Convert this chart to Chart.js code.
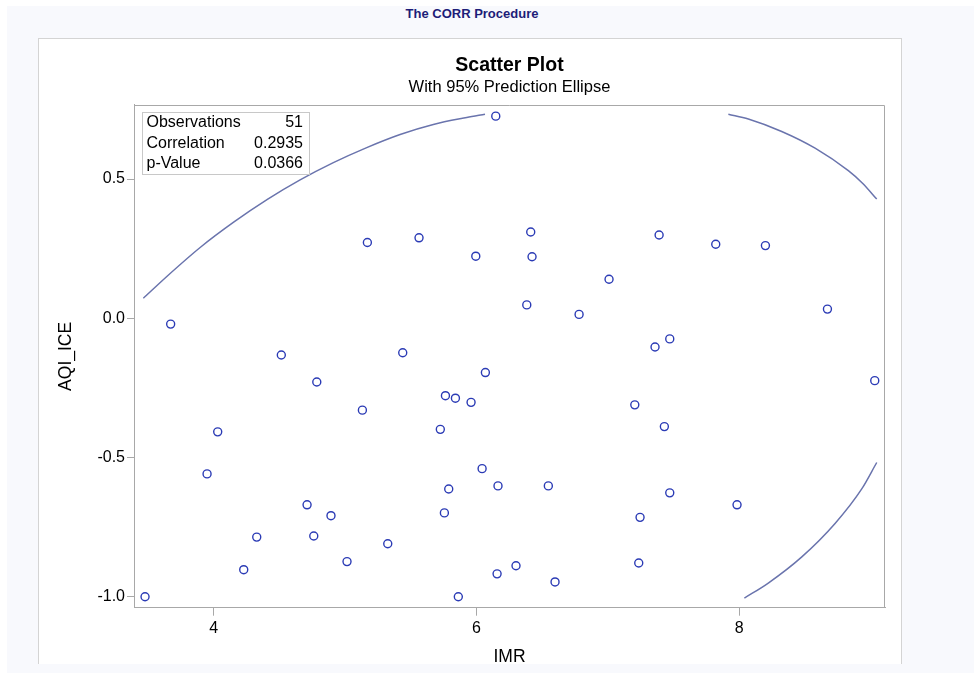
<!DOCTYPE html>
<html lang="en">
<head>
    <meta charset="UTF-8">
    <title>The CORR Procedure - Scatter Plot</title>
    <script src="https://cdn.jsdelivr.net/npm/chart.js"></script>
    <style>
        body {
            margin: 0;
            background: #ffffff;
            font-family: "Liberation Sans", Arial, sans-serif;
        }
        .page {
            position: absolute;
            left: 7px;
            top: 6px;
            width: 967px;
            height: 667px;
            background: #f8f9fd;
        }
        .proc-title {
            position: absolute;
            left: 39px;
            top: 6px;
            width: 866px;
            line-height: 16px;
            text-align: center;
            font-size: 13px;
            font-weight: bold;
            color: #1d1d78;
        }
        .panel {
            position: absolute;
            left: 38px;
            top: 38px;
            width: 862px;
            height: 625px;
            background: #ffffff;
            border: 1px solid #d4d4d4;
            border-bottom: none;
        }
        #scatter {
            position: absolute;
            left: 0;
            top: 0;
        }
    </style>
</head>
<body>

    <div class="page"></div>
    <div class="proc-title">The CORR Procedure</div>
    <div class="panel"></div>
    <canvas id="scatter" width="974" height="673"></canvas>

    <script>
        // observations
        const imr = [
            6.147, 5.170, 5.563, 5.995, 3.673, 6.413, 6.423, 7.390, 7.821, 8.199,
            7.009, 6.383, 6.781, 8.671, 7.359, 7.471, 4.515, 5.439, 6.068, 4.785,
            5.764, 5.840, 5.959, 5.132, 5.725, 4.031, 6.043, 3.950, 5.789, 6.164,
            4.711, 4.893, 5.756, 4.328, 4.762, 5.325, 5.015, 4.229, 6.157, 3.478,
            5.862, 9.031, 7.205, 7.430, 6.547, 7.471, 7.983, 7.245, 7.235, 6.301,
            6.598
        ];
        const aqiIce = [
            0.726, 0.272, 0.289, 0.223, -0.021, 0.310, 0.221, 0.299, 0.266, 0.261,
            0.140, 0.048, 0.014, 0.033, -0.103, -0.074, -0.132, -0.124, -0.195, -0.229,
            -0.278, -0.287, -0.302, -0.330, -0.399, -0.408, -0.540, -0.559, -0.613, -0.602,
            -0.670, -0.709, -0.699, -0.786, -0.782, -0.810, -0.874, -0.903, -0.918, -1.000,
            -1.000, -0.224, -0.311, -0.389, -0.602, -0.627, -0.670, -0.715, -0.879, -0.889,
            -0.947
        ];

        // visible pieces of the 95% prediction ellipse
        const arcTopLeftX = [3.465, 3.648, 3.902, 4.155, 4.409, 4.658, 4.911, 5.165, 5.419, 5.672, 5.926, 6.065];
        const arcTopLeftY = [0.072, 0.152, 0.256, 0.346, 0.427, 0.497, 0.559, 0.613, 0.660, 0.696, 0.721, 0.733];
        const arcTopRightX = [7.917, 8.069, 8.323, 8.577, 8.830, 8.938, 9.046];
        const arcTopRightY = [0.733, 0.716, 0.671, 0.611, 0.530, 0.485, 0.428];
        const arcBottomX = [8.039, 8.221, 8.476, 8.729, 8.932, 9.046];
        const arcBottomY = [-1.005, -0.951, -0.857, -0.737, -0.613, -0.518];

        const xTicks = [4, 6, 8];
        const yTicks = [-1.0, -0.5, 0.0, 0.5];

        const statLabels = ["Observations", "Correlation", "p-Value"];
        const statValues = ["51", "0.2935", "0.0366"];

        const FONT = "'Liberation Sans', Arial, sans-serif";

        function toPoints(xs, ys) {
            return xs.map((x, i) => ({ x: x, y: ys[i] }));
        }

        function arcDataset(xs, ys) {
            return {
                type: "line",
                data: toPoints(xs, ys),
                borderColor: "#6a74ad",
                borderWidth: 1.5,
                pointRadius: 0,
                cubicInterpolationMode: "monotone",
                fill: false
            };
        }

        // top and right edges of the plot frame
        const framePlugin = {
            id: "frame",
            afterDraw(chart) {
                const a = chart.chartArea;
                const ctx = chart.ctx;
                ctx.save();
                ctx.strokeStyle = "#a8a8a8";
                ctx.lineWidth = 1;
                ctx.beginPath();
                ctx.moveTo(a.left, a.top + 0.5);
                ctx.lineTo(a.right - 0.5, a.top + 0.5);
                ctx.lineTo(a.right - 0.5, a.bottom);
                ctx.stroke();
                ctx.restore();
            }
        };

        // statistics inset in the upper left corner
        const insetPlugin = {
            id: "inset",
            afterDatasetsDraw(chart) {
                const a = chart.chartArea;
                const ctx = chart.ctx;
                const x0 = a.left + 8, y0 = a.top + 7;
                const w = 167, rowH = 20.5;
                ctx.save();
                ctx.fillStyle = "#ffffff";
                ctx.fillRect(x0, y0, w, 62);
                ctx.strokeStyle = "#c8c8c8";
                ctx.lineWidth = 1;
                ctx.strokeRect(x0 + 0.5, y0 + 0.5, w, 62);
                ctx.font = "16px " + FONT;
                ctx.fillStyle = "#000000";
                ctx.textBaseline = "middle";
                statLabels.forEach((label, i) => {
                    const y = y0 + 11 + i * rowH;
                    ctx.textAlign = "left";
                    ctx.fillText(label, x0 + 4.5, y);
                    ctx.textAlign = "right";
                    ctx.fillText(statValues[i], x0 + w - 6, y);
                });
                ctx.restore();
            }
        };

        new Chart(document.getElementById("scatter"), {
            type: "scatter",
            data: {
                datasets: [
                    {
                        data: toPoints(imr, aqiIce),
                        pointStyle: "circle",
                        pointRadius: 4,
                        pointHoverRadius: 4,
                        borderColor: "#2b3bb5",
                        backgroundColor: "rgba(0,0,0,0)",
                        borderWidth: 1.4
                    },
                    arcDataset(arcTopLeftX, arcTopLeftY),
                    arcDataset(arcTopRightX, arcTopRightY),
                    arcDataset(arcBottomX, arcBottomY)
                ]
            },
            options: {
                responsive: false,
                animation: false,
                devicePixelRatio: 1,
                layout: {
                    padding: { left: 50, right: 89, top: 0, bottom: 0 }
                },
                scales: {
                    x: {
                        type: "linear",
                        min: 3.394,
                        max: 9.109,
                        afterFit: scale => { scale.height = 65.3; },
                        afterBuildTicks: scale => { scale.ticks = xTicks.map(v => ({ value: v })); },
                        grid: { drawOnChartArea: false, tickLength: 8, color: "#a8a8a8" },
                        border: { display: true, color: "#a8a8a8" },
                        ticks: {
                            padding: 3,
                            color: "#000000",
                            font: { family: FONT, size: 16 },
                            callback: v => String(v)
                        },
                        title: {
                            display: true,
                            text: "IMR",
                            color: "#000000",
                            font: { family: FONT, size: 17.5 },
                            padding: { top: 0, bottom: 5 }
                        }
                    },
                    y: {
                        type: "linear",
                        min: -1.0395,
                        max: 0.766,
                        afterFit: scale => { scale.width = 84; },
                        afterBuildTicks: scale => { scale.ticks = yTicks.map(v => ({ value: v })); },
                        grid: { drawOnChartArea: false, tickLength: 7, color: "#a8a8a8" },
                        border: { display: true, color: "#a8a8a8" },
                        ticks: {
                            padding: 2,
                            color: "#000000",
                            font: { family: FONT, size: 16 },
                            callback: v => Number(v).toFixed(1)
                        },
                        title: {
                            display: true,
                            text: "AQI_ICE",
                            color: "#000000",
                            font: { family: FONT, size: 17.5 },
                            padding: { top: 6, bottom: 0 }
                        }
                    }
                },
                plugins: {
                    legend: { display: false },
                    tooltip: { enabled: false },
                    title: {
                        display: true,
                        fullSize: false,
                        text: "Scatter Plot",
                        color: "#000000",
                        font: { family: FONT, size: 19.5, weight: "bold" },
                        padding: { top: 54.3, bottom: 0 }
                    },
                    subtitle: {
                        display: true,
                        fullSize: false,
                        text: "With 95% Prediction Ellipse",
                        color: "#000000",
                        font: { family: FONT, size: 16.5 },
                        padding: { top: 0, bottom: 7.5 }
                    }
                }
            },
            plugins: [insetPlugin, framePlugin]
        });
    </script>

</body>
</html>
